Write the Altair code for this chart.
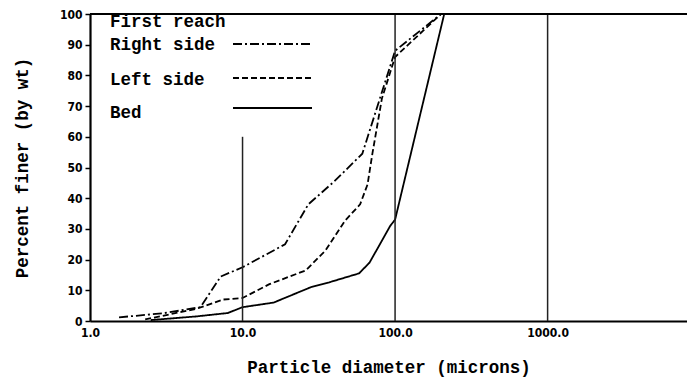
import altair as alt
import pandas as pd

# ---- data ----
right_d = [1.55, 3.0, 5.3, 7.2, 10, 19, 27, 40, 61, 100, 200]
right_p = [1.2, 2.5, 4.5, 14.5, 17.5, 25, 38, 45.5, 54.5, 88, 100]

left_d = [2.3, 5.0, 7.5, 10, 15, 26, 35, 47, 59, 66, 71, 82, 100, 200]
left_p = [0.5, 4.0, 7.0, 7.5, 12, 16.5, 23, 32.7, 38, 44.5, 54.5, 72.5, 86, 100]

bed_d = [2.5, 5.0, 8.0, 10, 16, 28, 37, 58, 68, 93, 100, 210]
bed_p = [0.3, 1.5, 2.6, 4.5, 6.0, 11, 12.6, 15.5, 19, 31, 33, 100]

series_names = ["Right side", "Left side", "Bed"]
x_ticks = [1, 10, 100, 1000]
y_ticks = [0, 10, 20, 30, 40, 50, 60, 70, 80, 90, 100]

ref_x = [10, 100, 1000]
ref_lo = [0, 0, 0]
ref_hi = [60, 100, 100]

legend_title = "First reach"

# ---- build tables ----
rows = []
for name, ds, ps in zip(series_names, [right_d, left_d, bed_d], [right_p, left_p, bed_p]):
    for i, (d, p) in enumerate(zip(ds, ps)):
        rows.append({"series": name, "d": d, "p": p, "i": i})
df = pd.DataFrame(rows)
refs = pd.DataFrame({"x": ref_x, "lo": ref_lo, "hi": ref_hi})

MONO = "Liberation Mono"
TICKF = "DejaVu Sans Condensed"

xscale = alt.Scale(type="log", domain=[1, 8200], nice=False)
yscale = alt.Scale(domain=[0, 100], nice=False)

xaxis = alt.Axis(values=x_ticks, format=".1f", grid=False, ticks=False,
                 domainColor="black", domainWidth=2.2,
                 labelFont=TICKF, labelFontWeight="bold", labelFontSize=12,
                 labelColor="black", labelPadding=6, labelFlush=False,
                 labelOverlap=False,
                 title="Particle diameter (microns)", titleFont=MONO,
                 titleFontSize=17.5, titleFontWeight="bold", titleColor="black",
                 titlePadding=20)
yaxis = alt.Axis(values=y_ticks, grid=False, tickSize=5, tickWidth=1.5,
                 tickColor="black", domainColor="black", domainWidth=2.2,
                 labelFont=TICKF, labelFontWeight="bold", labelFontSize=12,
                 labelColor="black", labelPadding=3, labelOverlap=False,
                 labelFlush=False,
                 title="Percent finer (by wt)", titleFont=MONO,
                 titleFontSize=17.5, titleFontWeight="bold", titleColor="black",
                 titlePadding=28)

dash_range = [[9, 3, 2, 3], [6, 3], [1, 0]]

lines = alt.Chart(df).mark_line(color="black", strokeWidth=1.8).encode(
    x=alt.X("d:Q", scale=xscale, axis=xaxis),
    y=alt.Y("p:Q", scale=yscale, axis=yaxis),
    strokeDash=alt.StrokeDash("series:N", scale=alt.Scale(domain=series_names, range=dash_range),
                              legend=None),
    detail="series:N",
    order="i:Q",
)

vrules = alt.Chart(refs).mark_rule(color="#222", strokeWidth=1.5).encode(
    x=alt.X("x:Q", scale=xscale, axis=xaxis),
    y=alt.Y("lo:Q", scale=yscale, axis=yaxis), y2="hi:Q"
)

top = alt.Chart(pd.DataFrame({"v": [100]})).mark_rule(color="black", strokeWidth=2.2).encode(
    y=alt.Y("v:Q", scale=yscale, axis=yaxis)
)

ty = [8, 31, 66, 99]
texts = []
for k, t in enumerate([legend_title] + series_names):
    texts.append(
        alt.Chart(pd.DataFrame({"t": [t]})).mark_text(
            font=MONO, fontSize=17.5, fontWeight="bold", align="left", baseline="middle",
            color="black"
        ).encode(text="t:N", x=alt.value(20), y=alt.value(ty[k]))
    )

leg_y = [30, 64, 94]
leg_lines = []
for k in range(3):
    leg_lines.append(
        alt.Chart(pd.DataFrame({"s": [series_names[k]]})).mark_rule(
            color="black", strokeWidth=1.8, strokeDash=dash_range[k]
        ).encode(x=alt.value(143), x2=alt.value(222), y=alt.value(leg_y[k]))
    )

chart = alt.layer(lines, vrules, top, *texts, *leg_lines).properties(
    width=597, height=307,
    autosize=alt.AutoSizeParams(type="none"),
    padding={"left": 82, "top": 6, "right": 0, "bottom": 60},
).configure_view(stroke=None).configure(background="white")

chart.save("out.html", embed_options={"renderer": "svg", "actions": False})
